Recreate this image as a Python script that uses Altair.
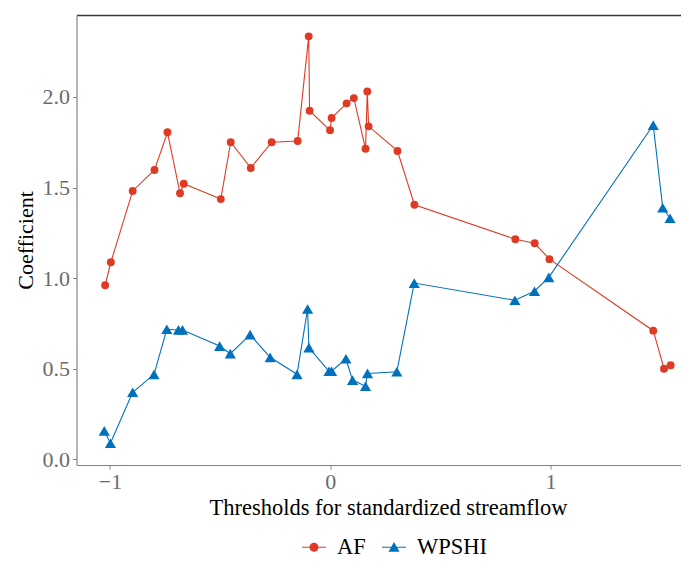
import altair as alt
import pandas as pd

# ---- data ----
af_x = [-1.022, -0.996, -0.897, -0.798, -0.739, -0.682, -0.665, -0.497, -0.452, -0.361,
        -0.266, -0.148, -0.098, -0.094, -0.001, 0.006, 0.074, 0.107, 0.160, 0.168,
        0.174, 0.305, 0.382, 0.840, 0.928, 0.995, 1.466, 1.515, 1.545]
af_y = [0.960, 1.087, 1.481, 1.597, 1.805, 1.468, 1.521, 1.436, 1.750, 1.608,
        1.750, 1.757, 2.335, 1.924, 1.816, 1.884, 1.965, 1.994, 1.714, 2.031,
        1.838, 1.702, 1.405, 1.214, 1.192, 1.104, 0.709, 0.499, 0.518]

wp_x = [-1.026, -0.998, -0.897, -0.800, -0.742, -0.689, -0.671, -0.502, -0.454, -0.364,
        -0.273, -0.151, -0.103, -0.097, -0.006, 0.006, 0.071, 0.101, 0.160, 0.169,
        0.302, 0.381, 0.838, 0.927, 0.992, 1.466, 1.509, 1.542]
wp_y = [0.156, 0.087, 0.369, 0.468, 0.717, 0.713, 0.713, 0.624, 0.582, 0.687,
        0.562, 0.468, 0.829, 0.615, 0.485, 0.485, 0.554, 0.436, 0.402, 0.473,
        0.482, 0.972, 0.877, 0.927, 1.004, 1.845, 1.388, 1.330]

series_names = ["AF", "WPSHI"]
series_colors = ["#DF3A24", "#0072BD"]
x_ticks = [-1, 0, 1]
y_ticks = [0.0, 0.5, 1.0, 1.5, 2.0]
x_title = "Thresholds for standardized streamflow"
y_title = "Coefficient"

df = pd.concat([
    pd.DataFrame({"x": af_x, "y": af_y, "series": "AF"}),
    pd.DataFrame({"x": wp_x, "y": wp_y, "series": "WPSHI"}),
], ignore_index=True)

FONT = "Liberation Serif"
W, H = 604.5, 450

xscale = alt.Scale(domain=[-1.152, 1.592], nice=False, zero=False)
yscale = alt.Scale(domain=[-0.033, 2.453], nice=False, zero=False)

y_enc = alt.Y("y:Q", scale=yscale, axis=alt.Axis(
    values=y_ticks, format=".1f", title=y_title, grid=False,
    titleFont=FONT, titleFontSize=22, titleFontWeight="normal", titleColor="black",
    labelFont=FONT, labelFontSize=22, labelColor="#6b6b6b",
    tickColor="#808080", tickSize=4, domainColor="#808080",
    labelPadding=3, titlePadding=5))

x_bottom = alt.X("x:Q", scale=xscale, axis=alt.Axis(
    values=x_ticks, format="d", title=x_title, grid=False,
    titleFont=FONT, titleFontSize=22.5, titleFontWeight="normal", titleColor="black",
    labelFont=FONT, labelFontSize=22, labelColor="#6b6b6b",
    tickColor="#808080", tickSize=4, domainColor="#808080",
    labelPadding=2, titlePadding=4, titleX=311.5))

x_top = alt.X("x:Q", scale=xscale, axis=alt.Axis(
    orient="top", labels=False, ticks=False, title=None, grid=False,
    domainColor="#3a3a3a", domainWidth=1.3))

x_none = alt.X("x:Q", scale=xscale, axis=None)

color_scale = alt.Scale(domain=series_names, range=series_colors)

legend_def = alt.Legend(
    title=None, orient="none", legendX=225.5, legendY=520, direction="horizontal",
    symbolOpacity=1, symbolSize=576, symbolStrokeWidth=0,
    labelFont=FONT, labelFontSize=22.5, labelColor="black", labelOffset=11,
    columnPadding=16, padding=0)

color_leg = alt.Color("series:N", scale=color_scale, legend=legend_def)
color_plain = alt.Color("series:N", scale=color_scale)

af_path = "M-1,-0.05H1V0.05H-1Z M-0.375,0A0.375,0.375 0 1,1 0.375,0A0.375,0.375 0 1,1 -0.375,0Z"
wp_path = "M-1,-0.05H1V0.05H-1Z M0,-0.44L0.46,0.38L-0.46,0.38Z"
shape_leg = alt.Shape("series:N", scale=alt.Scale(domain=series_names, range=[af_path, wp_path]),
                      legend=legend_def)

base = alt.Chart(df)

# invisible layer that carries the legend (first, so its legend settings win)
legend_layer = base.mark_point(filled=True, opacity=0).encode(
    x=x_none, y=y_enc, color=color_leg, shape=shape_leg)

lines = base.mark_line(strokeWidth=1.1).encode(x=x_bottom, y=y_enc, color=color_plain)

pts_af = base.transform_filter(alt.datum.series == "AF").mark_point(
    shape="circle", filled=True, size=62, opacity=1).encode(x=x_top, y=y_enc, color=color_plain)

pts_wp = base.transform_filter(alt.datum.series == "WPSHI").mark_point(
    shape="triangle-up", filled=True, size=125, opacity=1).encode(x=x_none, y=y_enc, color=color_plain)

chart = alt.layer(legend_layer, lines, pts_af, pts_wp).resolve_axis(
    x="independent"
).properties(
    width=W, height=H,
    autosize=alt.AutoSizeParams(type="none"),
    padding={"left": 68.5, "top": 7, "right": 0, "bottom": 99},
).configure_view(stroke=None).configure(background="white")

chart.save("out.html", embed_options={"renderer": "svg", "actions": False})
